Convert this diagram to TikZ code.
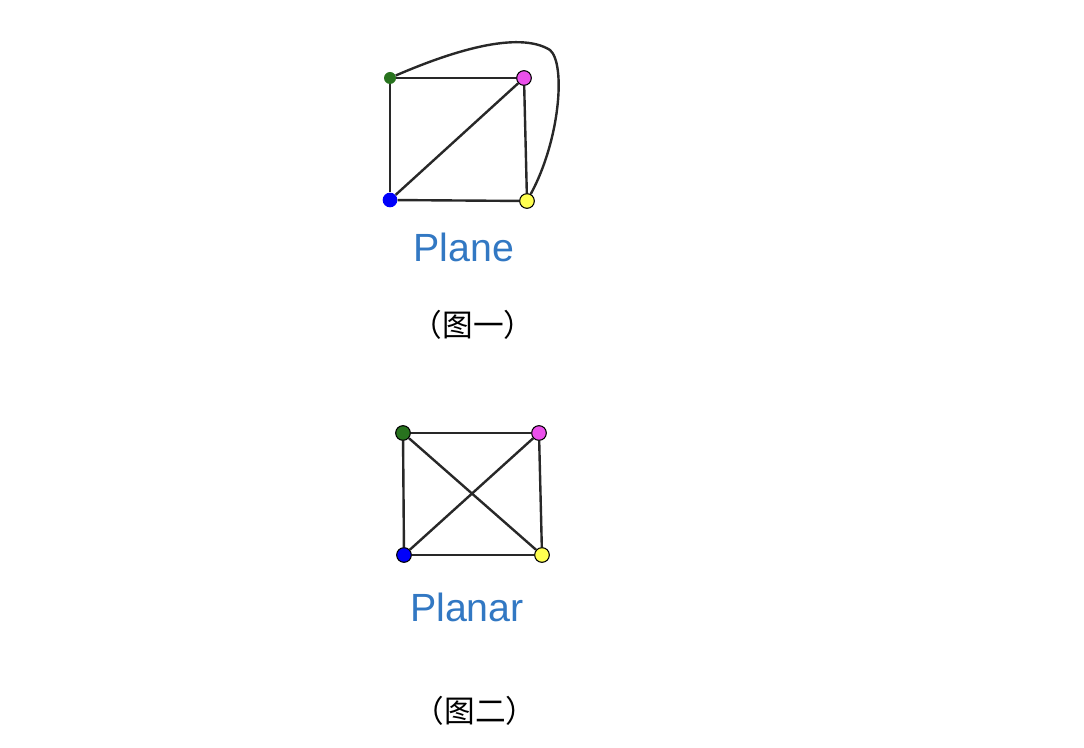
\documentclass[tikz,border=0pt]{standalone}
\usepackage{fontspec}
\setmainfont{Liberation Sans}
\newfontfamily\cjk{Noto Sans CJK SC}
\usepackage{tikz}
\definecolor{labelblue}{RGB}{50, 120, 195}
\definecolor{vgreen}{RGB}{40, 115, 30}
\definecolor{vmagenta}{RGB}{235, 80, 235}
\definecolor{vblue}{RGB}{0, 0, 250}
\definecolor{vyellow}{RGB}{255, 255, 80}
\definecolor{edgegray}{RGB}{40, 40, 40}

\begin{document}
\begin{tikzpicture}[
    x=0.75pt, y=-0.75pt,
    vertex/.style={circle, draw=black, line width=0.8pt, inner sep=0pt, minimum size=11pt},
    small vertex/.style={circle, inner sep=0pt, minimum size=9pt},
    edge/.style={draw=edgegray, line width=1.8pt},
    graphname/.style={text=labelblue, font=\fontsize{29.5}{32}\selectfont},
    caption/.style={font=\cjk\fontsize{23}{26}\selectfont}
]
    \useasboundingbox (0,0) rectangle (1084,748);

    % Plane graph
    \node[small vertex, fill=vgreen] (g1) at (390,78) {};
    \node[vertex, fill=vmagenta] (m1) at (524,78) {};
    \node[small vertex, minimum size=11pt, fill=vblue] (b1) at (390,200) {};
    \node[vertex, fill=vyellow] (y1) at (527,201) {};
    \coordinate (bend) at (550,50);

    \draw[edge] (g1) -- (m1);
    \draw[edge] (g1) -- (b1);
    \draw[edge] (b1) -- (m1);
    \draw[edge] (b1) -- (y1);
    \draw[edge] (m1) -- (y1);
    \draw[edge] (g1) .. controls (450,52) and (518,30) .. (bend)
                     .. controls (566,64) and (560,140) .. (y1);

    \node[graphname] (plane) at (464,247) {Plane};
    \node[caption] (cap1) at (473,325) {（图一）};

    % Planar graph
    \node[vertex, fill=vgreen] (g2) at (403,433) {};
    \node[vertex, fill=vmagenta] (m2) at (539,433) {};
    \node[vertex, fill=vblue] (b2) at (404,555) {};
    \node[vertex, fill=vyellow] (y2) at (542,555) {};

    \draw[edge] (g2) -- (m2);
    \draw[edge] (g2) -- (b2);
    \draw[edge] (b2) -- (y2);
    \draw[edge] (m2) -- (y2);
    \draw[edge] (g2) -- (y2);
    \draw[edge] (b2) -- (m2);

    \node[graphname] (planar) at (467,607) {Planar};
    \node[caption] (cap2) at (475,711) {（图二）};
\end{tikzpicture}
\end{document}
